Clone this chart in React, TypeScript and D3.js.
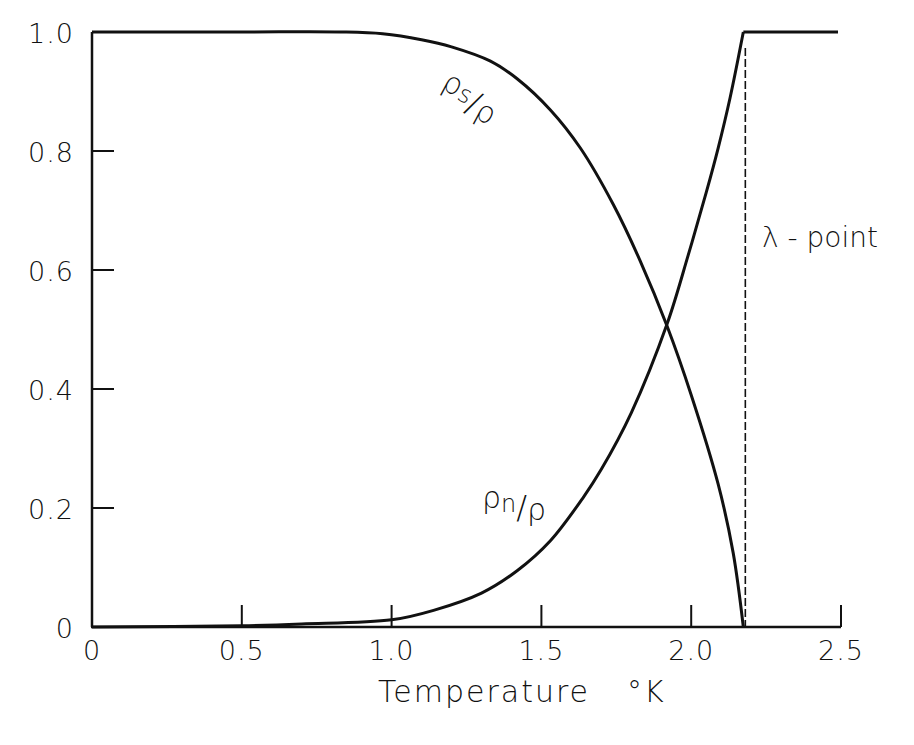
import React from "react";
import * as d3 from "d3";

const width = 914;
const height = 745;

// superfluid fraction rho_s/rho vs temperature (K)
const tempS = [0, 0.5, 0.83, 0.97, 1.1, 1.2, 1.33, 1.42, 1.53, 1.63, 1.74, 1.83, 1.92, 2.0, 2.09, 2.14, 2.174];
const rhoS = [1, 1, 1, 0.997, 0.987, 0.975, 0.951, 0.921, 0.869, 0.805, 0.71, 0.615, 0.505, 0.39, 0.24, 0.125, 0];

// normal fraction rho_n/rho
const tempN = [0, 0.5, 0.7, 1.0, 1.14, 1.3, 1.42, 1.53, 1.64, 1.7, 1.8, 1.92, 1.99, 2.05, 2.09, 2.13, 2.174];
const rhoN = [0, 0.002, 0.005, 0.012, 0.028, 0.057, 0.095, 0.145, 0.218, 0.265, 0.36, 0.51, 0.625, 0.73, 0.805, 0.89, 1];

// above the lambda point the whole liquid is normal
const tempAbove = [2.174, 2.49];
const rhoAbove = [1, 1];

const lambdaT = 2.174;

const xTicks = [0, 0.5, 1.0, 1.5, 2.0, 2.5];
const xTickLabels = ["0", "0.5", "1.0", "1.5", "2.0", "2.5"];
const yTicks = [0, 0.2, 0.4, 0.6, 0.8, 1.0];
const yTickLabels = ["0", "0.2", "0.4", "0.6", "0.8", "1.0"];

const x = d3.scaleLinear().domain([0, 2.5]).range([92, 841]);
const y = d3.scaleLinear().domain([0, 1]).range([627, 32]);

const font = "'DejaVu Sans', sans-serif";
const ink = "#111";

const smooth = d3
  .line<[number, number]>()
  .x((d) => x(d[0]))
  .y((d) => y(d[1]))
  .curve(d3.curveCatmullRom.alpha(0.5));

const straight = d3
  .line<[number, number]>()
  .x((d) => x(d[0]))
  .y((d) => y(d[1]));

const zip = (a: number[], b: number[]) => a.map((v, i) => [v, b[i]] as [number, number]);

export default function App() {
  const tickLen = 22;
  return (
    <svg
      width={width}
      height={height}
      style={{ position: "absolute", left: 0, top: 0, background: "#fff" }}
    >
      {/* axes */}
      <line x1={x(0)} x2={x(0)} y1={y(1)} y2={y(0)} stroke={ink} strokeWidth={2.5} />
      <line x1={x(0) - 1} x2={x(2.5)} y1={y(0)} y2={y(0)} stroke={ink} strokeWidth={2.5} />

      {xTicks.slice(1).map((t) => (
        <line key={t} x1={x(t)} x2={x(t)} y1={y(0)} y2={y(0) - tickLen} stroke={ink} strokeWidth={2} />
      ))}
      {yTicks.slice(1, -1).map((t) => (
        <line key={t} x1={x(0)} x2={x(0) + tickLen} y1={y(t)} y2={y(t)} stroke={ink} strokeWidth={2} />
      ))}

      <g fontFamily={font} fontWeight={200} fontSize={27} fill={ink} letterSpacing={1}>
        {xTicks.map((t, i) => (
          <text key={t} x={x(t)} y={y(0) + 33} textAnchor="middle">
            {xTickLabels[i]}
          </text>
        ))}
        {yTicks.map((t, i) => (
          <text key={t} x={74} y={y(t) + 11} textAnchor="end">
            {yTickLabels[i]}
          </text>
        ))}
      </g>

      <text
        x={378}
        y={702}
        fontFamily={font}
        fontWeight={200}
        fontSize={30}
        letterSpacing={2}
        fill={ink}
      >
        Temperature
        <tspan x={627}>°K</tspan>
      </text>

      {/* lambda point */}
      <line
        x1={x(lambdaT) + 2}
        x2={x(lambdaT) + 2}
        y1={48}
        y2={y(0)}
        stroke={ink}
        strokeWidth={1.6}
        strokeDasharray="8,3"
      />
      <text x={762} y={247} fontFamily={font} fontWeight={200} fontSize={28} fill={ink}>
        λ - point
      </text>

      {/* curves */}
      <path d={smooth(zip(tempS, rhoS)) || ""} fill="none" stroke={ink} strokeWidth={3} />
      <path d={smooth(zip(tempN, rhoN)) || ""} fill="none" stroke={ink} strokeWidth={3} />
      <path d={straight(zip(tempAbove, rhoAbove)) || ""} fill="none" stroke={ink} strokeWidth={3} />

      {/* curve labels */}
      <g fontFamily={font} fontWeight={200} fill={ink}>
        <text transform="translate(440,88) rotate(28)" fontSize={30}>
          ρ<tspan fontSize={24} dy={2}>s</tspan>
          <tspan fontSize={32} dy={6}>/</tspan>
          <tspan dy={2}>ρ</tspan>
        </text>
        <text x={482} y={508} fontSize={30}>
          ρ<tspan fontSize={24} dy={4}>n</tspan>
          <tspan fontSize={32} dy={6}>/</tspan>
          <tspan dy={2}>ρ</tspan>
        </text>
      </g>
    </svg>
  );
}
